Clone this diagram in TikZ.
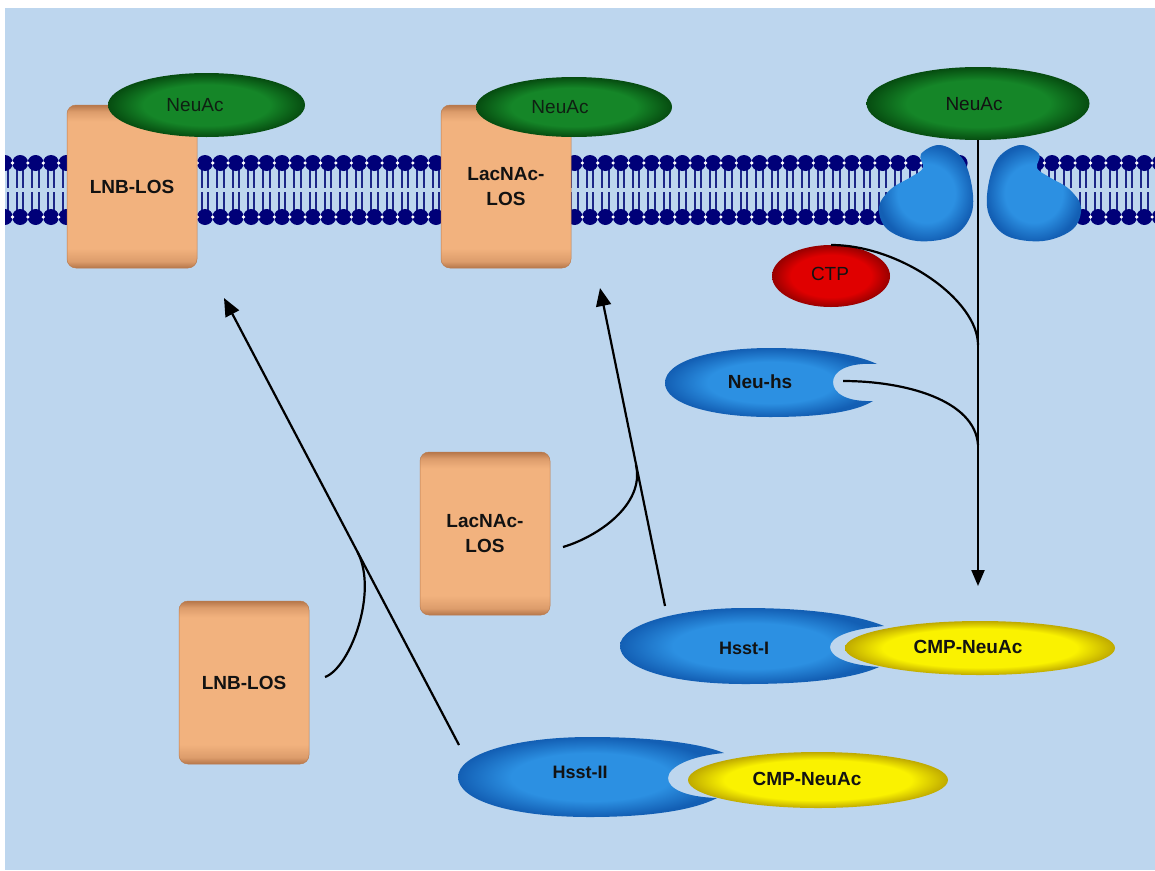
\documentclass[tikz,border=0pt]{standalone}
\usepackage{fontspec}
\setmainfont{Liberation Sans}
\usetikzlibrary{shapes.geometric,arrows.meta}

\definecolor{panel}{HTML}{BDD6EE}
\definecolor{navy}{HTML}{000078}
\definecolor{tailblue}{HTML}{1C2688}
\definecolor{tanL}{HTML}{F2B27E}
\definecolor{tanM}{HTML}{DC9C6B}
\definecolor{tanD}{HTML}{B5764A}
\definecolor{grnL}{HTML}{158628}
\definecolor{grnD}{HTML}{064C10}
\definecolor{bluL}{HTML}{2C90E2}
\definecolor{bluD}{HTML}{135FB4}
\definecolor{redL}{HTML}{E00000}
\definecolor{redD}{HTML}{980000}
\definecolor{yelL}{HTML}{FAF200}
\definecolor{yelD}{HTML}{BFAA00}
\definecolor{txt}{HTML}{121212}

% shadings: darker rims on the sugar boxes and on all rounded molecules
\pgfdeclareverticalshading{tanshade}{100bp}{color(0bp)=(tanD); color(25bp)=(tanD); color(27bp)=(tanM); color(31bp)=(tanL); color(70bp)=(tanL); color(73bp)=(tanM); color(75bp)=(tanD); color(100bp)=(tanD)}
\pgfdeclareradialshading{grnshade}{\pgfpoint{0bp}{0bp}}{color(0bp)=(grnL); color(16bp)=(grnL); color(25bp)=(grnD); color(50bp)=(grnD)}
\pgfdeclareradialshading{blushade}{\pgfpoint{0bp}{0bp}}{color(0bp)=(bluL); color(15bp)=(bluL); color(25bp)=(bluD); color(50bp)=(bluD)}
\pgfdeclareradialshading{redshade}{\pgfpoint{0bp}{0bp}}{color(0bp)=(redL); color(17bp)=(redL); color(25bp)=(redD); color(50bp)=(redD)}
\pgfdeclareradialshading{yelshade}{\pgfpoint{0bp}{0bp}}{color(0bp)=(yelL); color(18bp)=(yelL); color(25bp)=(yelD); color(50bp)=(yelD)}

\tikzset{
  tanbox/.style={rounded corners=9pt, shading=tanshade, draw=tanD!90!tanL, line width=0.5pt,
    minimum width=130pt, minimum height=163pt, inner sep=0pt, align=center, text=txt,
    font=\fontsize{19}{25}\selectfont\bfseries},
  grnell/.style={ellipse, shading=grnshade, inner sep=0pt, outer sep=0pt},
  redell/.style={ellipse, shading=redshade, inner sep=0pt, outer sep=0pt},
  yelell/.style={ellipse, shading=yelshade, inner sep=0pt, outer sep=0pt},
  molshape/.style={shading=blushade},
  siatext/.style={font=\fontsize{19}{20}\selectfont, text=txt!75!grnD},
  boldtext/.style={font=\fontsize{19}{20}\selectfont\bfseries, text=txt},
  hssttext/.style={font=\fontsize{18}{20}\selectfont\bfseries, text=txt},
  conn/.style={line width=2.2pt, black},
  arr/.style={conn, -{Triangle[length=18pt,width=15pt]}}
}

\begin{document}
\begin{tikzpicture}[x=1pt,y=-1pt]
\useasboundingbox (0,0) rectangle (1155,870);
\fill[white] (0,0) rectangle (1155,870);
\fill[panel] (5,8) rectangle (1155,870);

% lipid bilayer
\begin{scope}
\clip (5,8) rectangle (1155,870);
\foreach \k in {0,...,62,65,66,...,75} {
  \pgfmathsetmacro\hx{4.8+15.4*\k}
  \draw[tailblue, line width=1.9pt] (\hx-3.2,168) -- (\hx-3.2,188) (\hx+3.2,168) -- (\hx+3.2,188);
  \draw[tailblue, line width=1.9pt] (\hx-3.2,192) -- (\hx-3.2,212) (\hx+3.2,192) -- (\hx+3.2,212);
  \fill[navy] (\hx,163) circle (8);
  \fill[navy] (\hx,217) circle (8);
}
\foreach \k in {0,...,62,65,66,...,75} {
  \pgfmathsetmacro\hx{4.8+15.4*\k-7.7}
  \fill[white] (\hx,163) circle (1.8);
  \fill[white] (\hx,217) circle (1.8);
}
\end{scope}

% sialylated LOS in the outer membrane
\node[tanbox] (lnbtop) at (132,186.5) {LNB-LOS};
\node[tanbox] (lactop) at (506,186.5) {LacNAc-\\LOS};
\node[grnell, minimum width=197pt, minimum height=64pt] (sia1) at (206.5,105) {};
\node[siatext] (sia1t) at (195,105) {NeuAc};
\node[grnell, minimum width=196pt, minimum height=60pt] (sia2) at (574,107) {};
\node[siatext] (sia2t) at (560,107) {NeuAc};

% sialic acid transporter
\shade[molshape] plot[smooth cycle, tension=0.6] coordinates {
  (940,145) (962,158) (972,187) (971,215) (953,236) (917,241) (887,229)
  (879,207) (891,189) (911,177) (923,168) (921,154)};
\shade[molshape] plot[smooth cycle, tension=0.6] coordinates {
  (1020,145) (998,158) (988,187) (989,215) (1007,236) (1043,241) (1073,229)
  (1081,207) (1069,189) (1049,177) (1037,168) (1039,154)};
\node[grnell, minimum width=223pt, minimum height=73pt] (sia3) at (978,103.5) {};
\node[siatext, text=txt] (sia3t) at (974,104) {NeuAc};

% CTP and the CMP-NeuAc synthetase
\node[redell, minimum width=118pt, minimum height=62pt] (ctp) at (831,276) {};
\node[siatext, text=txt] (ctpt) at (830,274) {CTP};
\shade[molshape] (877,364) .. controls (846,362) and (833,372) .. (833,382)
  .. controls (833,393) and (846,402) .. (873,401)
  .. controls (855,412) and (820,417) .. (770,417)
  .. controls (715,417) and (665,405) .. (665,383)
  .. controls (665,360) and (715,348) .. (770,348)
  .. controls (820,348) and (858,355) .. (877,364) -- cycle;
\node[boldtext] (nhst) at (760,382) {Neu-hs};
\coordinate (nhsin) at (843,381);

\coordinate (tipA) at (978,586);
\coordinate (joinA) at (978,345);
\coordinate (joinB) at (978,445);
\draw[arr, -{Triangle[length=16pt,width=13pt]}] (sia3.south) -- (tipA);
\draw[conn] (ctp.north) .. controls (900,245) and (978,300) .. (joinA);
\draw[conn] (nhsin) .. controls (905,381) and (975,400) .. (joinB);

% acceptor LOS in the cytoplasm
\node[tanbox] (lacbot) at (485,533.5) {LacNAc-\\LOS};
\node[tanbox] (lnbbot) at (244,682.5) {LNB-LOS};

% sialyltransferases carrying CMP-NeuAc
\shade[molshape] (884,626) .. controls (850,629) and (830,637) .. (830,647)
  .. controls (830,657) and (848,665) .. (879,667)
  .. controls (850,680) and (800,684) .. (745,684)
  .. controls (670,684) and (620,668) .. (620,646)
  .. controls (620,624) and (680,608) .. (745,608)
  .. controls (805,608) and (855,614) .. (884,626) -- cycle;
\node[yelell, minimum width=270pt, minimum height=54pt] (cmp1) at (980,648) {};
\node[hssttext] (hs1t) at (744,648) {Hsst-I};
\node[boldtext] (cmp1t) at (968,647) {CMP-NeuAc};

\shade[molshape] (724,753) .. controls (690,756) and (668,767) .. (668,778)
  .. controls (668,789) and (686,797) .. (717,798)
  .. controls (690,812) and (640,817) .. (590,817)
  .. controls (510,817) and (458,800) .. (458,777)
  .. controls (458,754) and (515,737) .. (590,737)
  .. controls (650,737) and (700,743) .. (724,753) -- cycle;
\node[yelell, minimum width=260pt, minimum height=56pt] (cmp2) at (818,780) {};
\node[hssttext] (hs2t) at (580,772) {Hsst-II};
\node[boldtext] (cmp2t) at (807,779) {CMP-NeuAc};

% transfer reactions
\coordinate (h1top) at (665,606);
\coordinate (tipC) at (600,288);
\coordinate (joinD) at (636,465);
\coordinate (lacout) at (563,547);
\draw[arr] (h1top) -- (tipC);
\draw[conn] (lacout) .. controls (597,537) and (645,505) .. (joinD);

\coordinate (h2top) at (459,745);
\coordinate (tipB) at (224,298);
\coordinate (joinC) at (357.5,552);
\coordinate (lnbout) at (325,677);
\draw[arr] (h2top) -- (tipB);
\draw[conn] (lnbout) .. controls (350,668) and (378.5,592) .. (joinC);
\end{tikzpicture}
\end{document}
